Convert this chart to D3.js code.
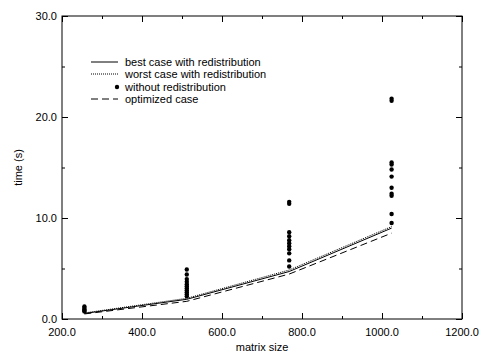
<!DOCTYPE html>
<html><head><meta charset="utf-8">
<script src="https://cdn.jsdelivr.net/npm/d3@7"></script>
<style>body{margin:0;background:#fff}svg{display:block}text{font-family:"Liberation Sans",Arial,sans-serif;font-size:11px;fill:#000}</style>
</head><body><svg id="c" width="481" height="354"></svg>
<script>
const sizes = [256, 512, 768, 1024];
const bestCase = [0.55, 1.95, 4.7, 9.0];
const worstCase = [0.6, 2.05, 4.85, 9.15];
const optimizedCase = [0.5, 1.75, 4.45, 8.5];
const withoutRedist = [
  [1.25, 1.1, 0.95, 0.85, 0.75],
  [4.9, 4.4, 3.95, 3.7, 3.45, 3.25, 3.05, 2.85, 2.65, 2.45, 2.25],
  [11.6, 11.4, 8.6, 8.2, 7.8, 7.5, 7.2, 6.9, 6.5, 5.8, 5.2],
  [21.8, 21.6, 15.5, 15.3, 14.8, 14.1, 13.0, 12.4, 12.2, 10.4, 9.5]
];
const xTicks = [200, 400, 600, 800, 1000, 1200];
const yTicks = [0, 10, 20, 30];
const legendLabels = ["best case with redistribution", "worst case with redistribution", "without redistribution", "optimized case"];

const svg = d3.select("#c");
const L = 62, R = 462, T = 16, B = 319;
const x = d3.scaleLinear().domain([200, 1200]).range([L, R]);
const y = d3.scaleLinear().domain([0, 30]).range([B, T]);

svg.append("rect").attr("x", L).attr("y", T).attr("width", R - L).attr("height", B - T)
  .attr("fill", "none").attr("stroke", "#000").attr("stroke-width", 1);

const fmt = d3.format(".1f");
const xMinor = d3.range(200, 1201, 100);
const yMinor = d3.range(0, 30.01, 5);
function tickSet(axisGen, tr, vals, size) {
  const g = svg.append("g").attr("transform", tr).call(axisGen.tickValues(vals).tickSize(size).tickFormat(""));
  g.select(".domain").remove();
  return g;
}
tickSet(d3.axisTop(x), `translate(0,${B})`, xTicks, 6);
tickSet(d3.axisTop(x), `translate(0,${B})`, xMinor, 3);
tickSet(d3.axisBottom(x), `translate(0,${T})`, xTicks, 6);
tickSet(d3.axisBottom(x), `translate(0,${T})`, xMinor, 3);
tickSet(d3.axisRight(y), `translate(${L},0)`, yTicks, 6);
tickSet(d3.axisRight(y), `translate(${L},0)`, yMinor, 3);
tickSet(d3.axisLeft(y), `translate(${R},0)`, yTicks, 6);
tickSet(d3.axisLeft(y), `translate(${R},0)`, yMinor, 3);
svg.selectAll(".tick line").attr("stroke", "#000");

svg.append("g").selectAll("text").data(xTicks).join("text")
  .attr("x", d => x(d)).attr("y", B + 17).attr("text-anchor", "middle").text(d => fmt(d));
svg.append("g").selectAll("text").data(yTicks).join("text")
  .attr("x", L - 5).attr("y", d => y(d) + 4).attr("text-anchor", "end").text(d => fmt(d));
svg.append("text").attr("x", (L + R) / 2).attr("y", 351).attr("text-anchor", "middle").text("matrix size");
svg.append("text").attr("transform", `translate(22,${(T + B) / 2}) rotate(-90)`).attr("text-anchor", "middle").text("time (s)");

const line = d3.line().x((d, i) => x(sizes[i])).y(d => y(d));
svg.append("path").datum(worstCase).attr("d", line).attr("fill", "none").attr("stroke", "#000")
  .attr("stroke-width", 1).attr("stroke-dasharray", "1,1");
svg.append("path").datum(bestCase).attr("d", line).attr("fill", "none").attr("stroke", "#000").attr("stroke-width", 1);
svg.append("path").datum(optimizedCase).attr("d", line).attr("fill", "none").attr("stroke", "#000")
  .attr("stroke-width", 1).attr("stroke-dasharray", "7,4");

const pts = [];
withoutRedist.forEach((arr, i) => arr.forEach(v => pts.push([sizes[i], v])));
svg.append("g").selectAll("circle").data(pts).join("circle")
  .attr("cx", d => x(d[0])).attr("cy", d => y(d[1])).attr("r", 2.2).attr("fill", "#000");

const ly = [62, 74, 87, 99];
const lg = svg.append("g");
lg.append("line").attr("x1", 91).attr("x2", 118).attr("y1", ly[0]).attr("y2", ly[0]).attr("stroke", "#000");
lg.append("line").attr("x1", 91).attr("x2", 118).attr("y1", ly[1]).attr("y2", ly[1]).attr("stroke", "#000").attr("stroke-dasharray", "1,1");
lg.append("circle").attr("cx", 117).attr("cy", ly[2]).attr("r", 2.2).attr("fill", "#000");
lg.append("line").attr("x1", 91).attr("x2", 118).attr("y1", ly[3]).attr("y2", ly[3]).attr("stroke", "#000").attr("stroke-dasharray", "7,4");
lg.selectAll("text").data(legendLabels).join("text")
  .attr("x", 125).attr("y", (d, i) => ly[i] + 4).text(d => d);
</script></body></html>
